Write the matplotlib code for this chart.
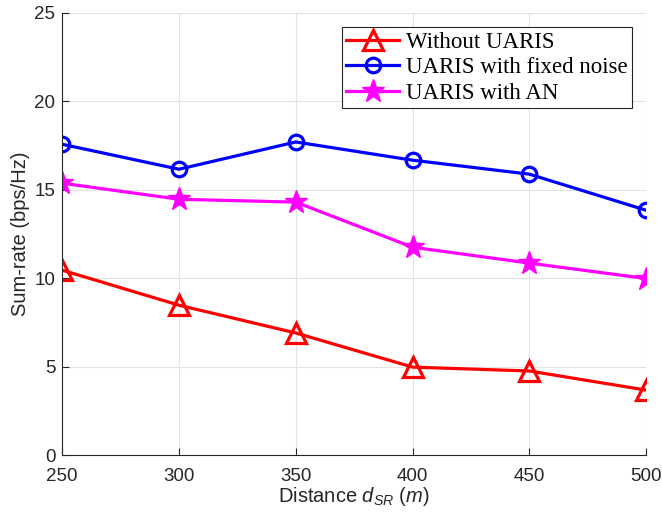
import numpy as np
import matplotlib
matplotlib.use('Agg')
import matplotlib.pyplot as plt

plt.rcParams['font.family'] = 'Liberation Sans'
plt.rcParams['mathtext.fontset'] = 'custom'
plt.rcParams['mathtext.rm'] = 'Liberation Sans'
plt.rcParams['mathtext.it'] = 'Liberation Sans:italic'

# sum-rate versus source-relay distance
distance = [250, 300, 350, 400, 450, 500]
rate_no_uaris = [10.45, 8.47, 6.9, 4.97, 4.75, 3.67]
rate_fixed_noise = [17.57, 16.16, 17.7, 16.67, 15.88, 13.84]
rate_an = [15.37, 14.46, 14.3, 11.75, 10.85, 9.98]

fig = plt.figure(figsize=(6.62, 5.15), dpi=100)
ax = fig.add_axes([0.094, 0.1165, 0.882, 0.8585])

ax.plot(distance, rate_no_uaris, color='red', lw=2.3, marker='^', ms=14,
        mfc='none', mew=2.3, label='Without UARIS')
ax.plot(distance, rate_fixed_noise, color='blue', lw=2.3, marker='o', ms=10.5,
        mfc='none', mew=2.3, label='UARIS with fixed noise')
ax.plot(distance, rate_an, color='magenta', lw=2.3, marker='*', ms=17,
        mfc='magenta', mew=1, label='UARIS with AN')

ax.set_xlim(250, 500)
ax.set_ylim(0, 25)
ax.set_xticks(distance)
ax.set_yticks(np.arange(0, 26, 5))
ax.grid(True, color='#e3e3e3', lw=0.8)
ax.set_axisbelow(True)
for s in ['top', 'right']:
    ax.spines[s].set_visible(False)
for s in ['left', 'bottom']:
    ax.spines[s].set_color('#262626')
    ax.spines[s].set_linewidth(0.8)
ax.tick_params(direction='in', length=5, width=0.8, labelsize=13.5,
               colors='#262626')
ax.tick_params(axis='x', pad=9)
ax.tick_params(axis='y', pad=5)

ax.set_xlabel(r'Distance $d_{SR}$ $(m)$', fontsize=14.5, color='#262626', labelpad=0)
ax.set_ylabel('Sum-rate (bps/Hz)', fontsize=14.5, color='#262626', labelpad=3)

leg = ax.legend(loc='upper right', bbox_to_anchor=(0.976, 0.968),
                prop={'family': 'Liberation Serif', 'size': 16.5},
                fancybox=False, edgecolor='#262626', framealpha=1,
                handlelength=2.3, handletextpad=0.3, labelspacing=0.2,
                borderpad=0.2, borderaxespad=0)
leg.get_frame().set_linewidth(0.8)

fig.savefig('out.png', dpi=100)
